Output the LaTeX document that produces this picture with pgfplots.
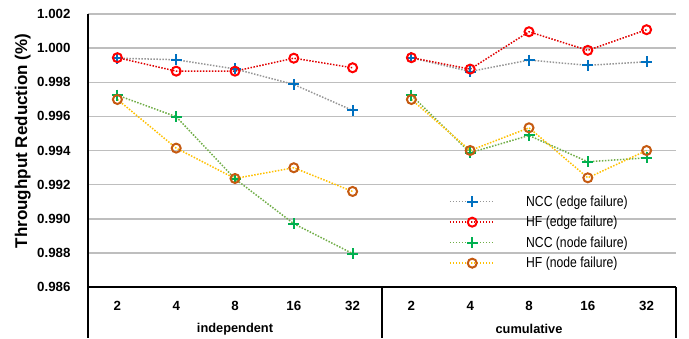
\documentclass[border=0pt]{standalone}
\usepackage{pgfplots}
\pgfplotsset{compat=1.18}
\usetikzlibrary{calc}
\usepackage{fontspec}
\setmainfont{Liberation Sans}

\definecolor{gridgray}{HTML}{BEBEBE}
\definecolor{ncceline}{HTML}{969696}
\definecolor{nccemark}{HTML}{0070C0}
\definecolor{hfeline}{HTML}{E00000}
\definecolor{hfemark}{HTML}{FF0000}
\definecolor{nccnline}{HTML}{70AD47}
\definecolor{nccnmark}{HTML}{00B050}
\definecolor{hfnline}{HTML}{FFC000}
\definecolor{hfnmark}{HTML}{C55A11}

% x = 0..4 : independent (2,4,8,16,32), x = 5..9 : cumulative (2,4,8,16,32)
% the nan row separates the two groups
\pgfplotstableread{
x    ncce     hfe      nccn     hfn
0    0.99941  0.99944  0.99724  0.99699
1    0.99932  0.99865  0.99598  0.99414
2    0.99878  0.99865  0.99234  0.99236
3    0.99787  0.99941  0.98971  0.99299
4    0.99635  0.99885  0.98796  0.99160
4.5  nan      nan      nan      nan
5    0.99943  0.99944  0.99724  0.99699
6    0.99863  0.99877  0.99387  0.99400
7    0.99930  1.00096  0.99488  0.99533
8    0.99899  0.99987  0.99334  0.99240
9    0.99920  1.00108  0.99357  0.99400
}\results

\begin{document}
\begin{tikzpicture}
\begin{axis}[
  name=ax,
  scale only axis, width=588pt, height=273pt,
  xmin=-0.5, xmax=9.5, ymin=0.986, ymax=1.002,
  unbounded coords=jump,
  xtick={0,1,2,3,4,5,6,7,8,9},
  xticklabels={2,4,8,16,32,2,4,8,16,32},
  ytick={0.986,0.988,0.990,0.992,0.994,0.996,0.998,1.000,1.002},
  scaled y ticks=false,
  /pgf/number format/assume math mode=true,
  yticklabel={\pgfmathprintnumber[fixed,fixed zerofill,precision=3]{\tick}},
  ymajorgrids, grid style={line width=1.5pt, color=gridgray},
  axis x line*=bottom, axis y line*=left,
  axis line style={line width=1.5pt, black, -},
  major tick length=0pt,
  xticklabel style={font=\bfseries\fontsize{13.3}{16}\selectfont, yshift=-10.5pt},
  yticklabel style={font=\bfseries\fontsize{13.3}{16}\selectfont, xshift=-14pt},
  clip=false,
  legend style={at={(rel axis cs:0.6085,0.35)}, anchor=north west, draw=none, fill=none,
    font=\fontsize{14.5}{17}\selectfont, row sep=4.5pt, column sep=29pt,
    nodes={xscale=0.84}},
  legend cell align=left,
  legend image code/.code={\draw[mark repeat=2,mark phase=2] plot coordinates {(0pt,0pt) (22.5pt,0pt) (45pt,0pt)};},
  every axis plot/.append style={line width=1.5pt, dash pattern=on 1.5pt off 1.5pt},
]
\addplot[color=ncceline, mark=+, mark size=5.5pt, mark options={solid, color=nccemark, line width=2pt}] table[x=x, y=ncce] {\results};
\addlegendentry{NCC (edge failure)}
\addplot[color=hfeline, mark=o, mark size=4.5pt, mark options={solid, color=hfemark, line width=2pt}] table[x=x, y=hfe] {\results};
\addlegendentry{HF (edge failure)}
\addplot[color=nccnline, mark=+, mark size=5.5pt, mark options={solid, color=nccnmark, line width=2pt}] table[x=x, y=nccn] {\results};
\addlegendentry{NCC (node failure)}
\addplot[color=hfnline, mark=o, mark size=4.5pt, mark options={solid, color=hfnmark, line width=2pt}] table[x=x, y=hfn] {\results};
\addlegendentry{HF (node failure)}
\end{axis}
% category box below the axis
\draw[line width=1.5pt] (ax.south west) -- ++(0,-51pt);
\draw[line width=1.5pt] (ax.south) -- ++(0,-51pt);
\draw[line width=1.5pt] (ax.south east) -- ++(0,-51pt);
\node[font=\bfseries\fontsize{12.8}{15}\selectfont] at ($(ax.south west)!0.25!(ax.south east)+(0,-42pt)$) {independent};
\node[font=\bfseries\fontsize{12.8}{15}\selectfont] at ($(ax.south west)!0.75!(ax.south east)+(0,-42pt)$) {cumulative};
\node[rotate=90, anchor=base, font=\bfseries\fontsize{17}{20}\selectfont]
  at ([xshift=-61pt,yshift=9.5pt]ax.west) {Throughput Reduction (\%)};
\pgfresetboundingbox
\path[use as bounding box] ([xshift=-88pt,yshift=-51pt]ax.south west) rectangle ([xshift=13pt,yshift=14pt]ax.north east);
\end{tikzpicture}
\end{document}
